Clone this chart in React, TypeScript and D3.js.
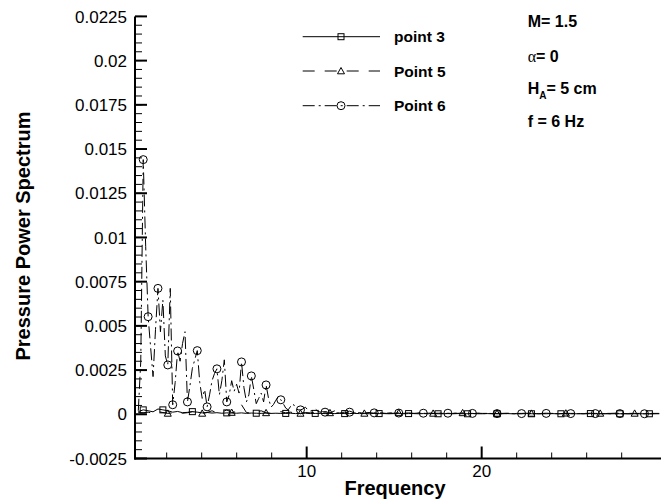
import React from "react";
import * as d3 from "d3";

// ---- data (values in units of 1e-5) ----
const FREQ0 = 0.3792;
const FREQ_STEP = 0.2808;

const seriesNames = ["point 3", "Point 5", "Point 6"];

// Point 3 (full-step grid)
const p3Values = [
  15, 25, 20, 14, 30, 25, 20, 12, 16, 9,
  11, 15, 12, 8, 10, 7, 9, 6, 8, 7,
  6, 8, 5, 7, 6, 5, 7, 5, 6, 5,
  5, 6, 4, 5, 6, 4, 5, 5, 4, 5,
  4, 5, 4, 4, 5, 4, 4, 3, 5, 4,
  4, 3, 4, 4, 3, 4, 4, 3, 4, 3,
  4, 3, 3, 4, 3, 4, 3, 3, 4, 3,
  3, 4, 3, 3, 3, 4, 3, 3, 3, 4,
  3, 3, 3, 3, 4, 3, 3, 3, 3, 3,
  3, 3, 4, 3, 3, 3, 3, 3, 3, 3,
  3, 3, 3, 3, 3, 3, 3,
];
const p3Markers = [1, 5, 11, 18, 24, 30, 36, 42, 49, 55, 61, 67, 73, 80, 86, 92, 98, 104];

// Point 5 (full-step grid)
const p5Values = [
  10, 8, 12, 6, 15, 10, 5, 8, 12, 6,
  9, 15, 8, 5, 10, 20, 8, 12, 25, 10,
  15, 54, 10, 6, 12, 20, 8, 5, 10, 15,
  8, 12, 6, 5, 10, 8, 12, 6, 15, 8,
  20, 10, 5, 18, 8, 6, 5, 10, 6, 5,
  8, 5, 6, 8, 5, 6, 5, 7, 5, 6,
  5, 6, 5, 5, 6, 5, 8, 5, 5, 6,
  5, 5, 6, 5, 5, 6, 5, 5, 5, 6,
  5, 5, 5, 6, 5, 5, 5, 6, 5, 5,
  5, 5, 6, 5, 5, 5, 5, 6, 5, 5,
  5, 5, 5, 5, 5, 5, 5,
];
const p5Markers = [6, 13, 19, 26, 33, 39, 46, 53, 60, 66, 73, 80, 87, 94, 101];

// Point 6 (half-step grid)
const p6Values = [
  20, 300, 1440, 950, 552, 380, 213, 480, 712, 467,
  646, 330, 279, 712, 54, 180, 358, 300, 400, 467,
  70, 160, 260, 310, 360, 180, 90, 140, 42, 110,
  190, 230, 257, 110, 190, 308, 70, 110, 190, 130,
  170, 120, 296, 150, 70, 110, 217, 140, 60, 90,
  120, 70, 166, 90, 40, 55, 80, 100, 82, 60,
  35, 25, 45, 60, 35, 25, 25, 30, 40, 25,
  18, 22, 30, 18, 12, 15, 12, 14, 10, 8,
  11, 9, 7, 10, 12, 9, 12, 8, 6, 9,
  10, 7, 6, 8, 9, 7, 8, 6, 7, 9,
  6, 5, 7, 8, 6, 5, 7, 6, 5, 7,
  8, 6, 5, 6, 7, 5, 6, 5, 6, 7,
  5, 4, 6, 7, 5, 4, 6, 5, 4, 6,
  5, 4, 5, 6, 4, 5, 5, 4, 5, 6,
  4, 4, 5, 5, 4, 5, 4, 4, 5, 4,
  4, 5, 4, 3, 5, 4, 4, 5, 4, 3,
  4, 5, 4, 3, 4, 4, 5, 4, 3, 4,
  4, 3, 4, 5, 4, 3, 4, 4, 3, 4,
  4, 3, 4, 4, 3, 4, 4, 3, 4, 3,
  4, 4, 3, 4, 3, 3, 4, 3, 4, 3,
  3, 4, 3, 3, 4, 3, 3, 4, 3, 3,
  4, 3, 3,
];
const p6Markers = [2, 4, 8, 12, 14, 16, 20, 24, 28, 32, 36, 42, 46, 52, 58, 66, 76, 86, 96, 106, 116, 126, 136, 146, 156, 166, 176, 186, 196, 206];

const yTickValues = [-0.0025, 0, 0.0025, 0.005, 0.0075, 0.01, 0.0125, 0.015, 0.0175, 0.02, 0.0225];
const yTickLabels = ["-0.0025", "0", "0.0025", "0.005", "0.0075", "0.01", "0.0125", "0.015", "0.0175", "0.02", "0.0225"];
const xTickValues = [10, 20];
const xTickLabels = ["10", "20"];

const FONT = "'Liberation Sans', Arial, Helvetica, sans-serif";

export default function App() {
  const W = 661, H = 500;
  const left = 135, right = 661, top = 16.4, bottom = 458.5;

  const x = d3.scaleLinear().domain([0.19, 30.247]).range([left, right]);
  const y = d3.scaleLinear().domain([-0.0025, 0.0225]).range([bottom, top]);

  const gridA = d3.range(p3Values.length).map((j) => FREQ0 + j * FREQ_STEP);
  const gridB = d3.range(p6Values.length).map((i) => FREQ0 + (i * FREQ_STEP) / 2);

  const mk = (vals: number[], grid: number[]) => vals.map((v, i) => [grid[i], v * 1e-5] as [number, number]);
  const s3 = mk(p3Values, gridA);
  const s5 = mk(p5Values, gridA.slice(0, p5Values.length));
  const s6 = mk(p6Values, gridB);

  const line = d3.line<[number, number]>().x((d) => x(d[0])).y((d) => y(d[1]));

  const yMinor = d3.range(-0.0025, 0.02251, 0.0005);
  const xMinor = d3.range(2, 30.1, 2).filter((v) => Math.abs(v % 10) > 0.01);

  const square = (cx: number, cy: number, k: string) => (
    <rect key={k} x={cx - 3} y={cy - 3} width={6} height={6} fill="none" stroke="#000" strokeWidth={1} />
  );
  const tri = (cx: number, cy: number, k: string) => (
    <path key={k} d={`M${cx},${cy - 3.5}L${cx + 3.5},${cy + 2.8}L${cx - 3.5},${cy + 2.8}Z`} fill="none" stroke="#000" strokeWidth={1} />
  );
  const circ = (cx: number, cy: number, k: string) => (
    <circle key={k} cx={cx} cy={cy} r={4} fill="none" stroke="#000" strokeWidth={1} />
  );

  const series = [
    { name: seriesNames[0], data: s3, markers: p3Markers, dash: "none", sym: square },
    { name: seriesNames[1], data: s5, markers: p5Markers, dash: "12,10", sym: tri },
    { name: seriesNames[2], data: s6, markers: p6Markers, dash: "12,4,2,4", sym: circ },
  ];

  const legendY = [36.7, 71, 105.7];

  return (
    <svg width={W} height={H} style={{ position: "absolute", left: 0, top: 0, display: "block", background: "#fff" }} fontFamily={FONT}>
      <defs>
        <clipPath id="plotclip">
          <rect x={left} y={top - 10} width={right - left} height={bottom - top + 10} />
        </clipPath>
      </defs>
      <rect x={0} y={0} width={W} height={H} fill="#fff" />

      {/* series */}
      <g clipPath="url(#plotclip)">
        {series.map((s, si) => (
          <g key={si}>
            <path d={line(s.data) || ""} fill="none" stroke="#000" strokeWidth={1} strokeDasharray={s.dash} />
            {s.markers.map((mi) => s.sym(x(s.data[mi][0]), y(s.data[mi][1]), `m${si}-${mi}`))}
          </g>
        ))}
      </g>

      {/* axes */}
      <line x1={left} x2={left} y1={top} y2={bottom + 1} stroke="#000" strokeWidth={2} />
      <line x1={left - 1} x2={right} y1={bottom} y2={bottom} stroke="#000" strokeWidth={2} />

      {yMinor.map((v, i) => (
        <line key={`ym${i}`} x1={left} x2={left + 7} y1={y(v)} y2={y(v)} stroke="#000" strokeWidth={1} />
      ))}
      {yTickValues.map((v, i) => (
        <g key={`yt${i}`}>
          <line x1={left} x2={left + 12} y1={y(v)} y2={y(v)} stroke="#000" strokeWidth={2} />
          <text x={left - 8} y={y(v)} dy="0.36em" textAnchor="end" fontSize={17}>
            {yTickLabels[i]}
          </text>
        </g>
      ))}
      {xMinor.map((v, i) => (
        <line key={`xm${i}`} x1={x(v)} x2={x(v)} y1={bottom} y2={bottom - 6} stroke="#000" strokeWidth={1} />
      ))}
      {xTickValues.map((v, i) => (
        <g key={`xt${i}`}>
          <line x1={x(v)} x2={x(v)} y1={bottom} y2={bottom - 12} stroke="#000" strokeWidth={2} />
          <text x={x(v)} y={477} textAnchor="middle" fontSize={17}>
            {xTickLabels[i]}
          </text>
        </g>
      ))}

      {/* axis titles */}
      <text x={395} y={495} textAnchor="middle" fontSize={20} fontWeight="bold">Frequency</text>
      <text transform="translate(29.5,236) rotate(-90)" textAnchor="middle" fontSize={20} fontWeight="bold">
        Pressure Power Spectrum
      </text>

      {/* legend */}
      {series.map((s, si) => (
        <g key={`lg${si}`}>
          <line x1={302.7} x2={380} y1={legendY[si]} y2={legendY[si]} stroke="#000" strokeWidth={1} strokeDasharray={s.dash} />
          {s.sym(341, legendY[si], `ls${si}`)}
          <text x={394} y={legendY[si] + 5.5} fontSize={15.5} fontWeight="bold">{s.name}</text>
        </g>
      ))}

      {/* annotations */}
      <g fontSize={16} fontWeight="bold">
        <text x={527.7} y={27}>M= 1.5</text>
        <text x={527.7} y={61.7}>
          <tspan fontFamily="'Liberation Serif', 'DejaVu Serif', serif" fontWeight="normal">α</tspan>= 0
        </text>
        <text x={527.7} y={94}>
          H<tspan fontSize={10} dy={5}>A</tspan><tspan dy={-5}>= 5 cm</tspan>
        </text>
        <text x={527.7} y={126.7}>f = 6 Hz</text>
      </g>
    </svg>
  );
}
